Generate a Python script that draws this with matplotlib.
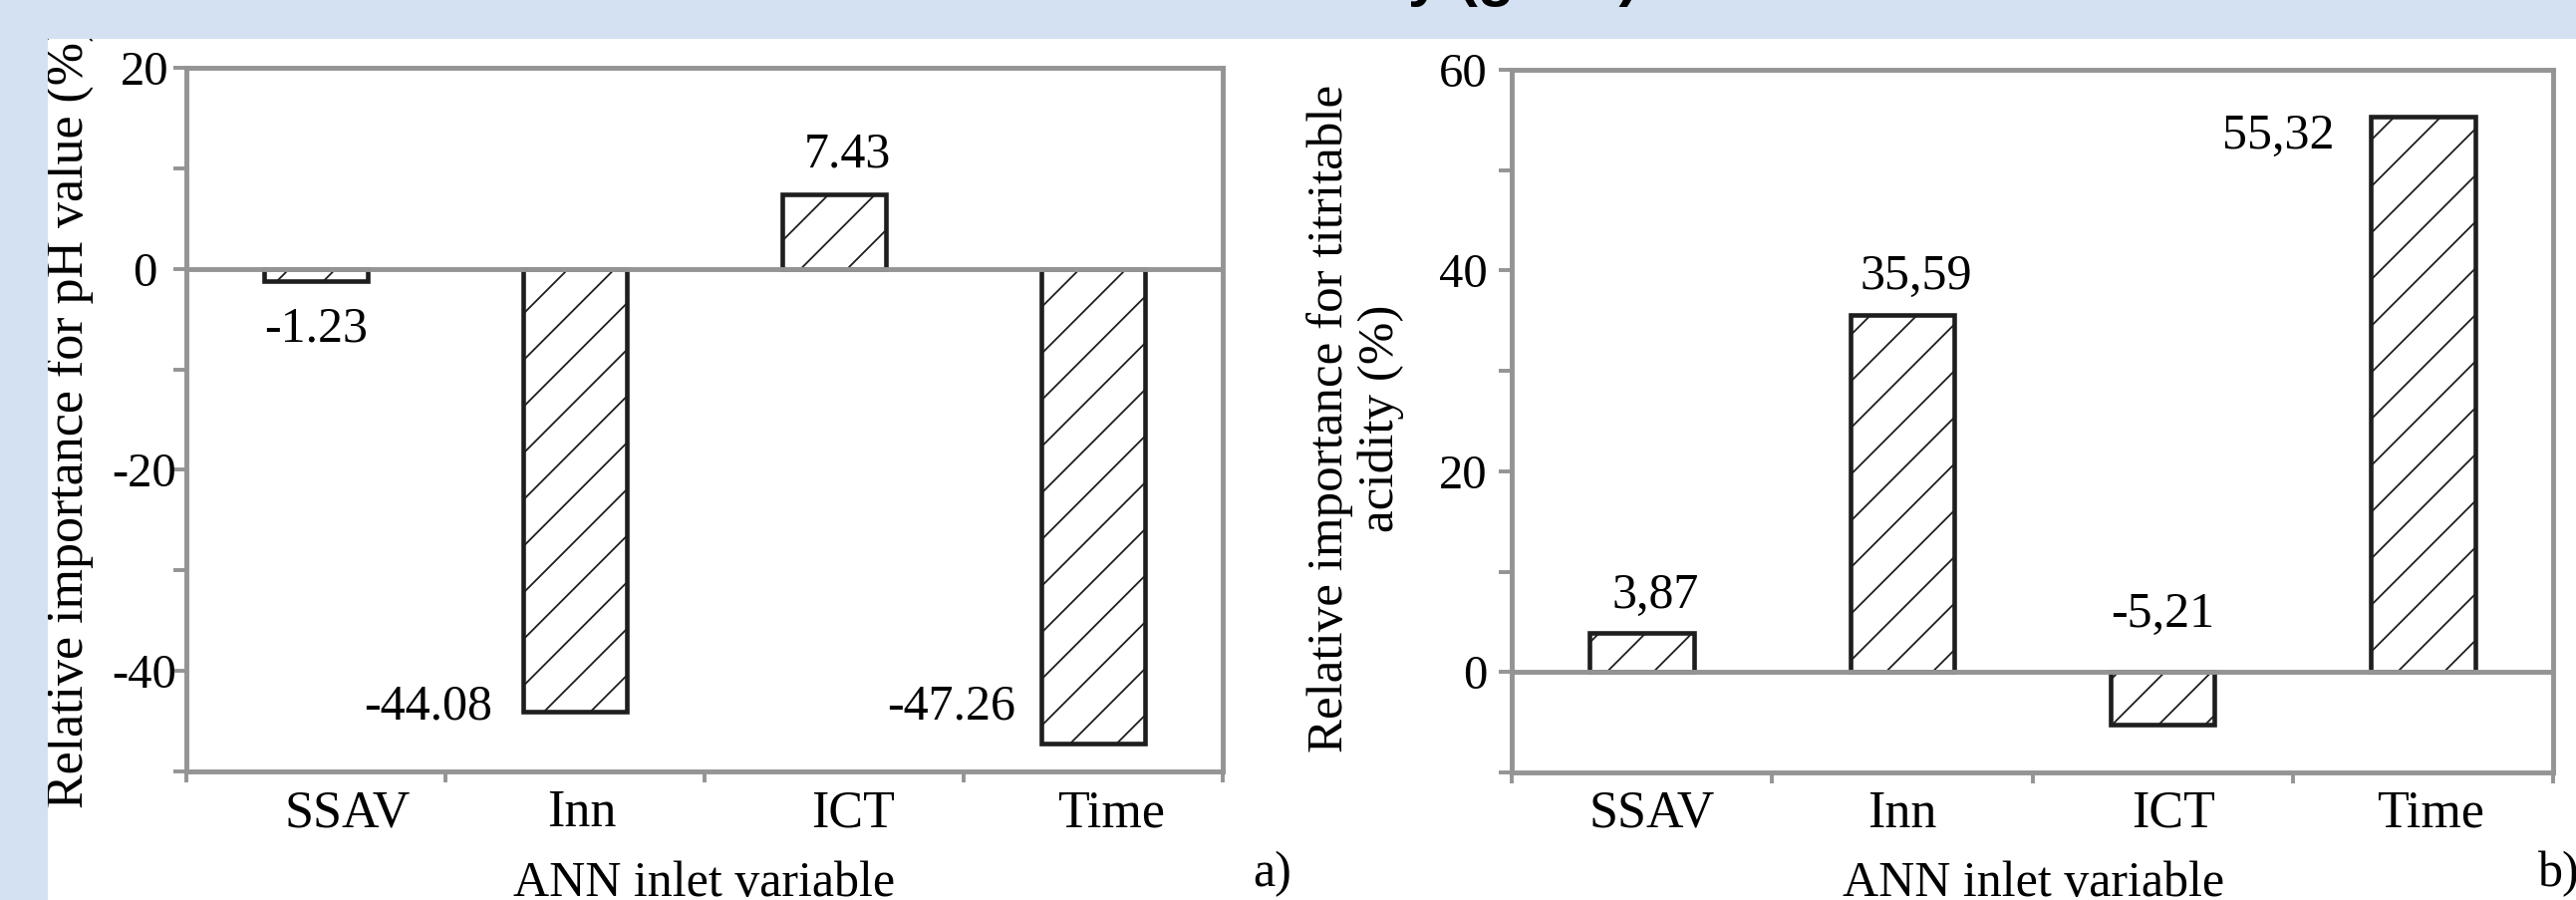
import matplotlib.pyplot as plt
from matplotlib.patches import Rectangle

W, H = 2585, 903
DPI = 140  # agg hatch cell is one inch, so this sets the hatch spacing


def px(v):
    # pixels -> points at the chosen dpi
    return v * 72 / DPI


categories = ["SSAV", "Inn", "ICT", "Time"]

ph_values = [-1.23, -44.08, 7.43, -47.26]
ph_labels = ["-1.23", "-44.08", "7.43", "-47.26"]

acid_values = [3.87, 35.59, -5.21, 55.32]
acid_labels = ["3,87", "35,59", "-5,21", "55,32"]

ph_yticks = [-50, -40, -30, -20, -10, 0, 10, 20]
acid_yticks = [-10, 0, 10, 20, 30, 40, 50, 60]

# where each value label sits (x, y, horizontal alignment)
ph_label_pos = [(0.0, -6.0, "center"), (0.68, -43.6, "right"),
                (2.05, 11.3, "center"), (2.70, -43.6, "right")]
acid_label_pos = [(0.05, 7.6, "center"), (1.055, 39.4, "center"),
                  (2.0, 5.7, "center"), (2.66, 53.4, "right")]
# category names sit a little right of the bar centres in the original
ph_name_shift = [0.12, 0.025, 0.075, 0.07]
acid_name_shift = [0.04, 0.0, 0.04, 0.03]

GRAY = "#949494"
EDGE = "#1e1e1e"
BLUE = "#d4e1f2"
FS = px(50)

plt.rcParams["font.family"] = ["Liberation Serif", "DejaVu Serif"]
plt.rcParams["hatch.linewidth"] = px(1.8)

fig = plt.figure(figsize=(W / DPI, H / DPI), dpi=DPI)

# slide background bands
fig.patches.append(Rectangle((0, 1 - 38 / H), 1, 38 / H, transform=fig.transFigure,
                             color=BLUE, zorder=5))
fig.patches.append(Rectangle((0, 0), 47 / W, 1, transform=fig.transFigure,
                             color=BLUE, zorder=5))
fig.text(1645 / W, 1 + 5 / H, "Titratable acidity (g L⁻¹)", ha="right", va="baseline",
         fontsize=px(60), fontweight="bold", family=["Liberation Sans", "DejaVu Sans"],
         zorder=6)


def draw_panel(ax, values, labels, label_pos, name_shift, yticks, ylim, ytick_ha, ytick_pad):
    x = list(range(len(categories)))
    ax.bar(x, values, width=0.4, color="white", edgecolor=EDGE, linewidth=px(4.6),
           hatch="/", zorder=2)
    ax.axhline(0, color=GRAY, linewidth=px(4.9), zorder=3)
    for (tx, ty, ha), txt in zip(label_pos, labels):
        ax.text(tx, ty, txt, ha=ha, va="center", fontsize=FS)

    ax.set_xlim(-0.5, len(categories) - 0.5)
    ax.set_ylim(*ylim)
    for s in ax.spines.values():
        s.set_color(GRAY)
        s.set_linewidth(px(4.9))

    ax.set_xticks([i + d for i, d in zip(x, name_shift)])
    ax.set_xticklabels(categories, fontsize=px(52))
    ax.set_xticks([i - 0.5 for i in range(len(categories) + 1)], minor=True)
    ax.tick_params(axis="x", which="major", length=0, pad=px(18))
    ax.tick_params(axis="x", which="minor", length=px(10.7), width=px(3.9), color=GRAY)

    ax.set_yticks(yticks)
    ax.set_yticklabels([str(t) if t % 20 == 0 else "" for t in yticks],
                       fontsize=px(48.6), ha=ytick_ha)
    ax.tick_params(axis="y", length=px(13), width=px(3.9), color=GRAY, pad=px(ytick_pad))


ax1 = fig.add_axes([187 / W, (H - 774) / H, 1040 / W, 706 / H])
draw_panel(ax1, ph_values, ph_labels, ph_label_pos, ph_name_shift,
           ph_yticks, (-50, 20), "center", 29)

ax2 = fig.add_axes([1517 / W, (H - 775) / H, 1045 / W, 705 / H])
draw_panel(ax2, acid_values, acid_labels, acid_label_pos, acid_name_shift,
           acid_yticks, (-10, 60), "right", 11)

# axis titles
fig.text(70 / W, 1 - 418 / H, "Relative importance for pH value (%)", rotation=90,
         ha="center", va="center", fontsize=px(52), zorder=3)
fig.text(1360 / W, 1 - 420 / H, "Relative importance for titritable\nacidity (%)",
         rotation=90, ha="center", va="center", multialignment="center",
         fontsize=px(51), linespacing=1.12, zorder=3)
fig.text(707 / W, 1 - 864 / H, "ANN inlet variable", ha="center", va="top", fontsize=FS)
fig.text(2041 / W, 1 - 864 / H, "ANN inlet variable", ha="center", va="top", fontsize=FS)
fig.text(1257 / W, 1 - 854 / H, "a)", ha="left", va="top", fontsize=FS)
fig.text(2547 / W, 1 - 854 / H, "b)", ha="left", va="top", fontsize=FS)

fig.savefig("out.png", dpi=DPI, facecolor="white")
